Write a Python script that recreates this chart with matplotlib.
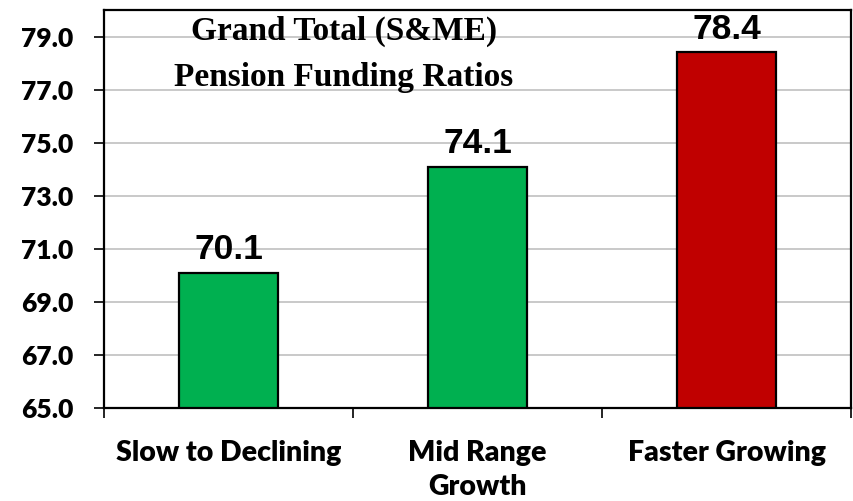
import numpy as np
import matplotlib.pyplot as plt

# datos del grafico
categorias = ["Slow to Declining", "Mid Range\nGrowth", "Faster Growing"]
valores = [70.1, 74.1, 78.4]
colores = ["#00B050", "#00B050", "#C00000"]
yticks = [65.0, 67.0, 69.0, 71.0, 73.0, 75.0, 77.0, 79.0]

fig = plt.figure(figsize=(8.54, 5.01), dpi=100)
ax = fig.add_axes([0.1218, 0.1856, 0.8747, 0.7944])

x = np.arange(len(categorias))
base = 65.0
ax.bar(x, np.array(valores) - base, bottom=base, width=0.4, color=colores,
       edgecolor="black", linewidth=1.6, zorder=3)

for xi, v in zip(x, valores):
    ax.text(xi, v + 0.25, f"{v:.1f}", ha="center", va="bottom",
            family="Liberation Sans", fontweight="bold", fontsize=25.5, zorder=4)

ax.set_xlim(-0.5, 2.5)
ax.set_ylim(65, 80)
ax.set_yticks(yticks)
ax.set_yticklabels([f"{t:.1f}" for t in yticks], family="Lato",
                   fontweight="heavy", fontsize=19)
ax.set_xticks(x)
ax.set_xticklabels(categorias, family="Lato", fontweight="heavy", fontsize=20.5,
                   linespacing=1.4)
ax.set_xticks([-0.5, 0.5, 1.5, 2.5], minor=True)
ax.tick_params(axis="x", which="major", length=0, pad=23)
ax.tick_params(axis="x", which="minor", length=7, width=1.2, direction="out")
ax.tick_params(axis="y", length=7, width=1.2, direction="out", pad=15)

ax.grid(axis="y", color="#c0c0c0", linewidth=1.2, zorder=0)
for s in ax.spines.values():
    s.set_linewidth(1.6)

ax.text(0.321, 0.985, "Grand Total (S&ME)\nPension Funding Ratios",
        transform=ax.transAxes, ha="center", va="top",
        family="Liberation Serif", fontweight="bold", fontsize=24,
        linespacing=1.6, zorder=5)

plt.savefig("out.png", dpi=100)
